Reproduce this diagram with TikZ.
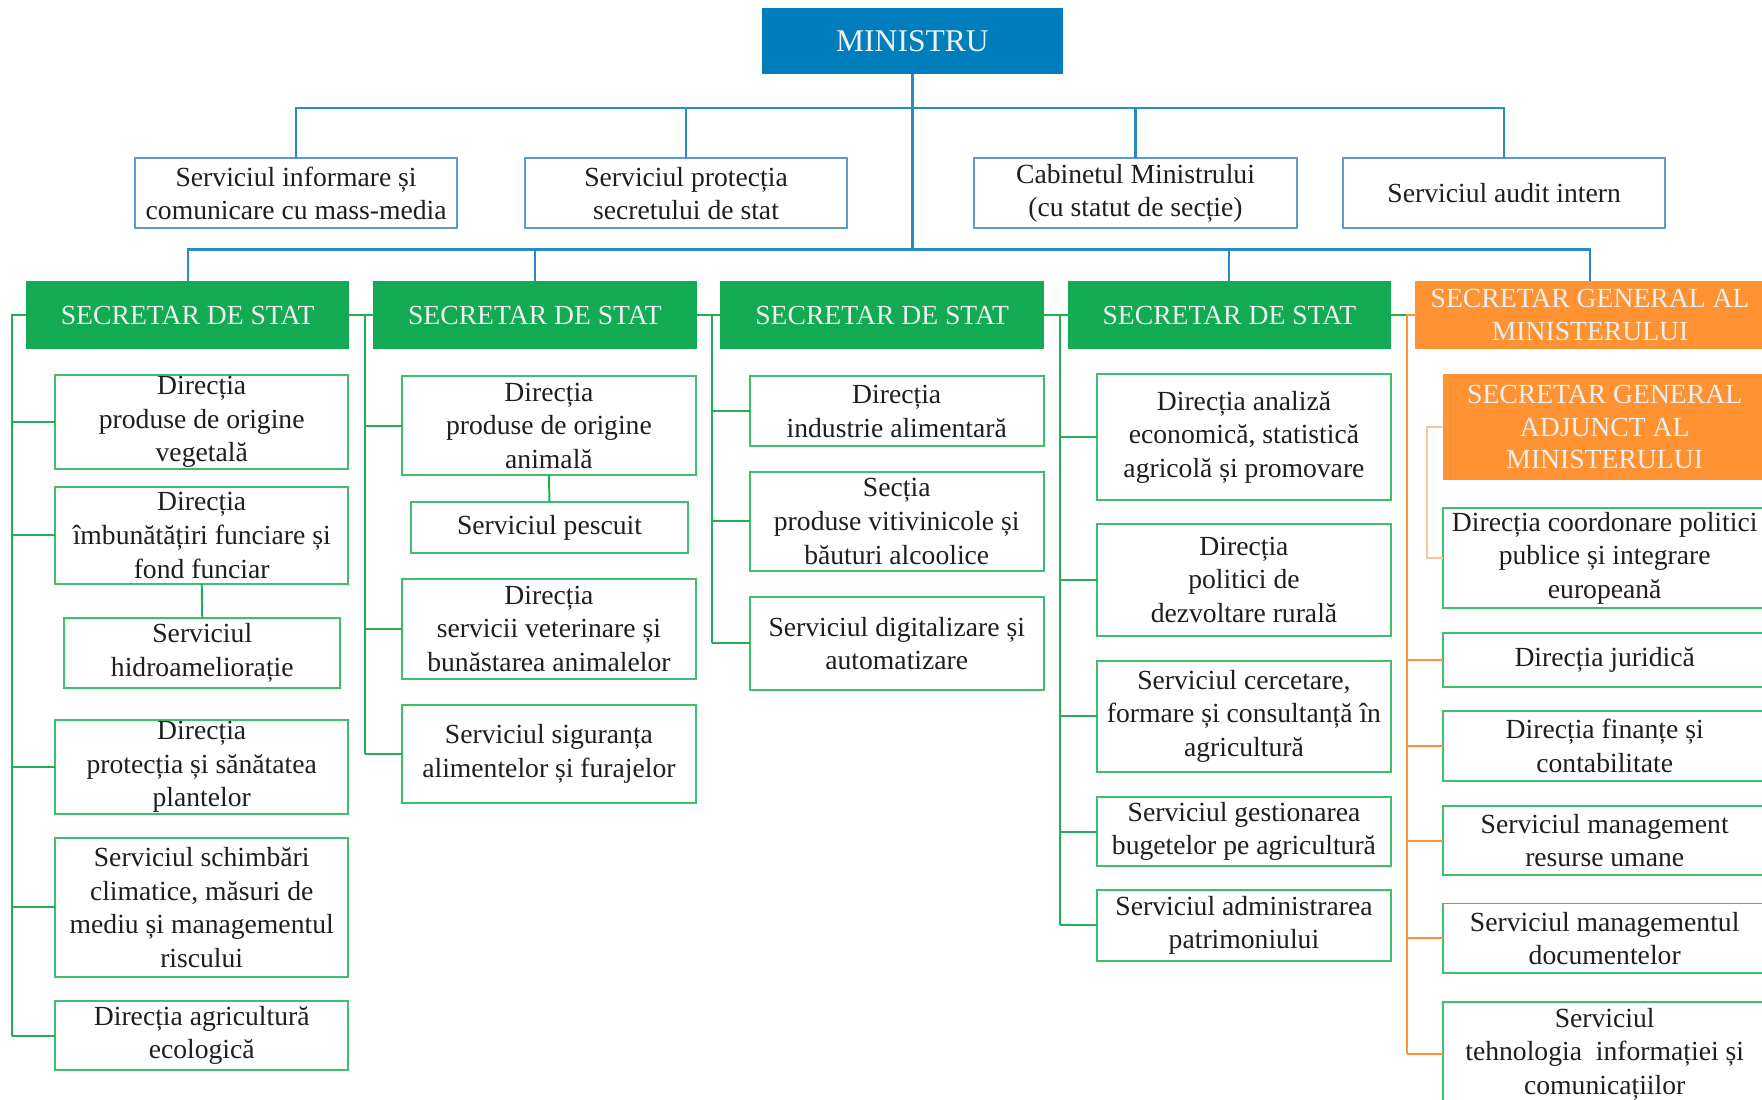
\documentclass[tikz,border=0pt]{standalone}
\usepackage{fontspec}
\setmainfont{Liberation Serif}

\definecolor{ministerblue}{RGB}{0,126,187}
\definecolor{lineblue}{RGB}{40,138,200}
\definecolor{boxblue}{RGB}{91,155,213}
\definecolor{headgreen}{RGB}{18,171,84}
\definecolor{boxgreen}{RGB}{60,192,104}
\definecolor{linegreen}{RGB}{30,176,82}
\definecolor{headorange}{RGB}{255,146,51}
\definecolor{paleorange}{RGB}{255,196,150}
\definecolor{headtext}{RGB}{236,240,240}
\definecolor{bodytext}{RGB}{30,30,30}

\begin{document}
\begin{tikzpicture}[x=0.02cm, y=-0.02cm,
  every node/.style={inner sep=0pt, outer sep=0pt, align=center},
  minbox/.style={fill=ministerblue, text=headtext, font=\fontsize{16}{19}\selectfont,
    minimum width=5.36cm, minimum height=1.18cm},
  servbox/.style={draw=boxblue, line width=1pt, fill=white, text=bodytext,
    font=\fontsize{14}{16.6}\selectfont, minimum width=5.74cm, minimum height=1.24cm},
  headbox/.style={fill=headgreen, text=headtext, font=\fontsize{14}{16.6}\selectfont,
    minimum width=5.76cm, minimum height=1.22cm},
  genbox/.style={headbox, fill=headorange},
  unitbox/.style={draw=boxgreen, line width=1pt, fill=white, text=bodytext,
    font=\fontsize{14}{17}\selectfont, minimum width=5.22cm},
  blueline/.style={draw=lineblue, line width=1.1pt},
  greenline/.style={draw=linegreen, line width=1pt},
  orangeline/.style={draw=headorange, line width=1pt},
  paleline/.style={draw=paleorange, line width=1pt},
]

\clip (0,0) rectangle (1568,978);

% minister and his services
\node[minbox] (min) at (812,36.5) {MINISTRU};

\node[servbox] (sinf) at (263.5,172) {Serviciul informare și\\comunicare cu mass-media};
\node[servbox] (sprot) at (610.5,172) {Serviciul protecția\\secretului de stat};
\node[servbox] (cab) at (1010.5,172) {Cabinetul Ministrului\\(cu statut de secție)};
\node[servbox] (saud) at (1338.5,172) {Serviciul audit intern};

% secretaries
\node[headbox] (ss1) at (167,280.5) {SECRETAR DE STAT};
\node[headbox] (ss2) at (476,280.5) {SECRETAR DE STAT};
\node[headbox] (ss3) at (785,280.5) {SECRETAR DE STAT};
\node[headbox] (ss4) at (1094,280.5) {SECRETAR DE STAT};
\node[genbox, minimum width=6.24cm] (sg) at (1415,280.5) {SECRETAR GENERAL AL\\MINISTERULUI};

% bus coordinates
\coordinate (top bus) at (0,96);
\coordinate (mid bus) at (0,222);
\coordinate (bus1) at (11,0);
\coordinate (bus2) at (325,0);
\coordinate (bus3) at (634,0);
\coordinate (bus4) at (943,0);
\coordinate (bus5) at (1252,0);
\coordinate (bus6) at (1270,0);

% column 1
\node[unitbox, minimum height=1.66cm] (c1a) at (179.5,375.5) {Direcția\\produse de origine\\vegetală};
\node[unitbox, minimum height=1.74cm] (c1b) at (179.5,476.5) {Direcția\\îmbunătățiri funciare și\\fond funciar};
\node[unitbox, minimum width=4.92cm, minimum height=1.24cm] (c1c) at (180,581) {Serviciul\\hidroameliorație};
\node[unitbox, minimum height=1.66cm] (c1d) at (179.5,682.5) {Direcția\\protecția și sănătatea\\plantelor};
\node[unitbox, minimum height=2.46cm] (c1e) at (179.5,807.5) {Serviciul schimbări\\climatice, măsuri de\\mediu și managementul\\riscului};
\node[unitbox, minimum height=1.22cm] (c1f) at (179.5,921.5) {Direcția agricultură\\ecologică};

% column 2
\node[unitbox, minimum height=1.76cm] (c2a) at (488.5,379) {Direcția\\produse de origine\\animală};
\node[unitbox, minimum width=4.92cm, minimum height=0.9cm] (c2b) at (489,469.5) {Serviciul pescuit};
\node[unitbox, minimum height=1.78cm] (c2c) at (488.5,559.5) {Direcția\\servicii veterinare și\\bunăstarea animalelor};
\node[unitbox, minimum height=1.76cm] (c2d) at (488.5,671) {Serviciul siguranța\\alimentelor și furajelor};

% column 3
\node[unitbox, minimum width=5.24cm, minimum height=1.24cm] (c3a) at (798,366) {Direcția\\industrie alimentară};
\node[unitbox, minimum width=5.24cm, minimum height=1.76cm] (c3b) at (798,464) {Secția\\produse vitivinicole și\\băuturi alcoolice};
\node[unitbox, minimum width=5.24cm, minimum height=1.66cm] (c3c) at (798,572.5) {Serviciul digitalizare și\\automatizare};

% column 4
\node[unitbox, minimum width=5.24cm, minimum height=2.24cm] (c4a) at (1107,389) {Direcția analiză\\economică, statistică\\agricolă și promovare};
\node[unitbox, minimum width=5.24cm, minimum height=2.0cm] (c4b) at (1107,516) {Direcția\\politici de\\dezvoltare rurală};
\node[unitbox, minimum width=5.24cm, minimum height=1.98cm] (c4c) at (1107,637.5) {Serviciul cercetare,\\formare și consultanță în\\agricultură};
\node[unitbox, minimum width=5.24cm, minimum height=1.24cm] (c4d) at (1107,740) {Serviciul gestionarea\\bugetelor pe agricultură};
\node[unitbox, minimum width=5.24cm, minimum height=1.26cm] (c4e) at (1107,823.5) {Serviciul administrarea\\patrimoniului};

% column 5
\node[genbox, minimum height=1.88cm] (sga) at (1428,380) {SECRETAR GENERAL\\ADJUNCT AL\\MINISTERULUI};
\node[unitbox, minimum width=5.76cm, minimum height=1.78cm] (c5a) at (1428,496.5) {Direcția coordonare politici\\publice și integrare\\europeană};
\node[unitbox, minimum width=5.76cm, minimum height=0.96cm] (c5b) at (1428,587) {Direcția juridică};
\node[unitbox, minimum width=5.76cm, minimum height=1.24cm] (c5c) at (1428,664) {Direcția finanțe și\\contabilitate};
\node[unitbox, minimum width=5.76cm, minimum height=1.24cm] (c5d) at (1428,748) {Serviciul management\\resurse umane};
\node[unitbox, minimum width=5.76cm, minimum height=1.24cm] (c5e) at (1428,835) {Serviciul managementul\\documentelor};
\node[unitbox, minimum width=5.76cm, minimum height=1.84cm] (c5f) at (1428,938) {Serviciul\\tehnologia\ \ informației și\\comunicațiilor};

% blue connectors
\draw[blueline] (sinf.north) -- (sinf.north |- top bus) -- (saud.north |- top bus) -- (saud.north);
\draw[blueline] (sprot.north) -- (sprot.north |- top bus);
\draw[blueline] (cab.north) -- (cab.north |- top bus);
\draw[blueline] (min.south) -- (min.south |- mid bus);
\draw[blueline] (ss1.north) -- (ss1.north |- mid bus) -- (sg.north |- mid bus) -- (sg.north);
\draw[blueline] (ss2.north) -- (ss2.north |- mid bus);
\draw[blueline] (ss4.north) -- (ss4.north |- mid bus);

% green connectors
\draw[greenline] (ss1.west) -| (c1f.west -| bus1);
\foreach \u in {c1a,c1b,c1d,c1e,c1f}
  \draw[greenline] (\u.west) -- (\u.west -| bus1);
\draw[greenline] (c1b.south) -- (c1c.north);

\draw[greenline] (ss1.east) -- (ss2.west);
\draw[greenline] (ss2.west -| bus2) -- (c2d.west -| bus2);
\foreach \u in {c2a,c2c,c2d}
  \draw[greenline] (\u.west) -- (\u.west -| bus2);
\draw[greenline] (c2a.south) -- (c2b.north);

\draw[greenline] (ss2.east) -- (ss3.west);
\draw[greenline] (ss3.west -| bus3) -- (c3c.west -| bus3);
\foreach \u in {c3a,c3b,c3c}
  \draw[greenline] (\u.west) -- (\u.west -| bus3);

\draw[greenline] (ss3.east) -- (ss4.west);
\draw[greenline] (ss4.west -| bus4) -- (c4e.west -| bus4);
\foreach \u in {c4a,c4b,c4c,c4d,c4e}
  \draw[greenline] (\u.west) -- (\u.west -| bus4);

% orange connectors
\draw[greenline] (ss4.east) -- (ss4.east -| bus5);
\draw[orangeline] (sg.west) -| (c5f.west -| bus5);
\foreach \u in {c5b,c5c,c5d,c5e,c5f}
  \draw[orangeline] (\u.west) -- (\u.west -| bus5);
\draw[paleline] (sga.west) -- (sga.west -| bus6) |- (c5a.west);

\end{tikzpicture}
\end{document}
